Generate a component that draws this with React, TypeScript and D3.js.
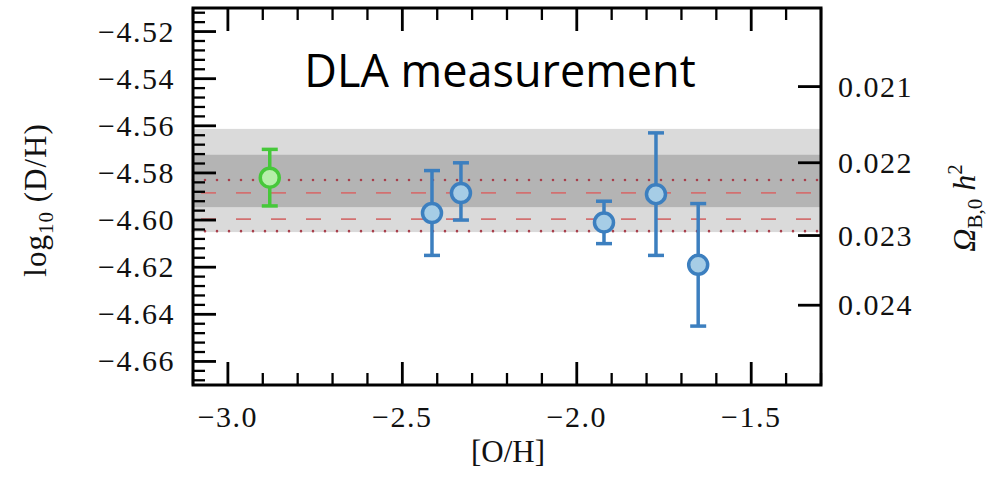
import React from "react";
import * as d3 from "d3";

// measurements: [O/H] and log10(D/H) with asymmetric error bars
const ohValues = [-2.88, -2.415, -2.332, -1.922, -1.773, -1.652];
const dhValues = [-4.582, -4.597, -4.5885, -4.601, -4.589, -4.619];
const dhLow = [-4.594, -4.615, -4.6, -4.61, -4.615, -4.645];
const dhHigh = [-4.57, -4.579, -4.5757, -4.592, -4.563, -4.593];
const pointKind = ["new", "lit", "lit", "lit", "lit", "lit"];

// shaded bands and reference lines
const bandOuter = [-4.5613, -4.6051];
const bandInner = [-4.5723, -4.5945];
const dottedLines = [-4.583, -4.6047];
const dashedLines = [-4.5885, -4.5996];

const xTicks = [-3.0, -2.5, -2.0, -1.5];
const yTicks = [-4.52, -4.54, -4.56, -4.58, -4.6, -4.62, -4.64, -4.66];
const omegaTicks = [0.021, 0.022, 0.023, 0.024];

const W = 987;
const H = 489;
const left = 193;
const right = 821;
const top = 8;
const bottom = 385;

// log10(D/H) = A - 1.6 log10(Omega_b h^2)
const omegaA = -7.2278;
const omegaToDH = (w: number) => omegaA - 1.6 * Math.log10(w);

const fmt = (v: number, n: number) => {
  const s = Math.abs(v).toFixed(n);
  return v < 0 ? "\u2212" + s : s;
};

const colors = {
  new: { stroke: "#46c83a", fill: "#b6eeaa" },
  lit: { stroke: "#3c7fbf", fill: "#a6cde6" },
};

const serif = "'Liberation Serif', 'Times New Roman', serif";
const labelStyle = { fontFamily: serif, fontSize: 30, fill: "#111" };

export default function App() {
  const x = d3.scaleLinear().domain([-3.1, -1.3]).range([left, right]);
  const y = d3.scaleLinear().domain([-4.51, -4.67]).range([top, bottom]);

  const xMinor = d3.range(-3.1, -1.29, 0.1).filter((v) => Math.abs(v * 2 - Math.round(v * 2)) > 1e-6);
  const yMinor = d3.range(-4.668, -4.5099, 0.004).filter((v) => Math.abs(v * 50 - Math.round(v * 50)) > 1e-6);

  const majorLen = 23;
  const minorLen = 12;

  return (
    <svg
      width={W}
      height={H}
      style={{ position: "absolute", left: 0, top: 0, background: "#fff" }}
    >
      {/* bands */}
      <rect x={left} width={right - left} y={y(bandOuter[0])} height={y(bandOuter[1]) - y(bandOuter[0])} fill="#dadada" />
      <rect x={left} width={right - left} y={y(bandInner[0])} height={y(bandInner[1]) - y(bandInner[0])} fill="#b4b4b4" />

      {dashedLines.map((v, i) => (
        <line key={"da" + i} x1={left} x2={right} y1={y(v)} y2={y(v)} stroke="#d27070" strokeWidth={1.8} strokeDasharray="15 20" strokeDashoffset={-8} />
      ))}
      {dottedLines.map((v, i) => (
        <line key={"do" + i} x1={left} x2={right} y1={y(v)} y2={y(v)} stroke="#a8404c" strokeWidth={2.6} strokeDasharray="0 12" strokeLinecap="round" />
      ))}

      {/* error bars */}
      {ohValues.map((v, i) => {
        const c = colors[pointKind[i] as "new" | "lit"];
        const cx = x(v);
        return (
          <g key={"e" + i} stroke={c.stroke} strokeWidth={3.5}>
            <line x1={cx} x2={cx} y1={y(dhLow[i])} y2={y(dhHigh[i])} />
            <line x1={cx - 8} x2={cx + 8} y1={y(dhLow[i])} y2={y(dhLow[i])} />
            <line x1={cx - 8} x2={cx + 8} y1={y(dhHigh[i])} y2={y(dhHigh[i])} />
          </g>
        );
      })}
      {ohValues.map((v, i) => {
        const c = colors[pointKind[i] as "new" | "lit"];
        return <circle key={"p" + i} cx={x(v)} cy={y(dhValues[i])} r={9.5} fill={c.fill} stroke={c.stroke} strokeWidth={3.5} />;
      })}

      {/* ticks */}
      <g stroke="#000">
        {xTicks.map((v) => (
          <g key={"xt" + v} strokeWidth={2.8}>
            <line x1={x(v)} x2={x(v)} y1={bottom} y2={bottom - majorLen} />
            <line x1={x(v)} x2={x(v)} y1={top} y2={top + majorLen} />
          </g>
        ))}
        {xMinor.map((v) => (
          <g key={"xm" + v} strokeWidth={2.3}>
            <line x1={x(v)} x2={x(v)} y1={bottom} y2={bottom - minorLen} />
            <line x1={x(v)} x2={x(v)} y1={top} y2={top + minorLen} />
          </g>
        ))}
        {yTicks.map((v) => (
          <line key={"yt" + v} x1={left} x2={left + majorLen} y1={y(v)} y2={y(v)} strokeWidth={2.8} />
        ))}
        {yMinor.map((v) => (
          <line key={"ym" + v} x1={left} x2={left + minorLen} y1={y(v)} y2={y(v)} strokeWidth={2.3} />
        ))}
        {omegaTicks.map((w) => (
          <line key={"ot" + w} x1={right} x2={right - majorLen} y1={y(omegaToDH(w))} y2={y(omegaToDH(w))} strokeWidth={2.8} />
        ))}
      </g>

      <rect x={left} y={top} width={right - left} height={bottom - top} fill="none" stroke="#000" strokeWidth={3} />

      {/* tick labels */}
      {yTicks.map((v) => (
        <text key={"yl" + v} x={left - 18} y={y(v) + 10} textAnchor="end" letterSpacing={1.5} style={labelStyle}>
          {fmt(v, 2)}
        </text>
      ))}
      {xTicks.map((v) => (
        <text key={"xl" + v} x={x(v)} y={427} textAnchor="middle" letterSpacing={1.5} style={labelStyle}>
          {fmt(v, 1)}
        </text>
      ))}
      {omegaTicks.map((w) => (
        <text key={"ol" + w} x={right + 17} y={y(omegaToDH(w)) + 10} textAnchor="start" letterSpacing={1.5} style={labelStyle}>
          {w.toFixed(3)}
        </text>
      ))}

      {/* axis labels */}
      <text x={508} y={462} textAnchor="middle" style={{ ...labelStyle, fontSize: 31 }}>
        [O/H]
      </text>
      <text transform="translate(46,200) rotate(-90)" textAnchor="middle" letterSpacing={1} style={{ ...labelStyle, fontSize: 31 }}>
        log
        <tspan fontSize={21} dy={7}>10</tspan>
        <tspan dy={-7}> (D/H)</tspan>
      </text>
      <text transform="translate(975,208) rotate(-90)" textAnchor="middle" style={{ ...labelStyle, fontSize: 32 }}>
        <tspan fontStyle="italic">Ω</tspan>
        <tspan fontSize={21} dy={7}>B,0</tspan>
        <tspan dy={-7} fontStyle="italic"> h</tspan>
        <tspan fontSize={21} dy={-13}>2</tspan>
      </text>

      <text x={500} y={87} textAnchor="middle" fontFamily="'Open Sans', sans-serif" fontSize={45} fill="#000">
        DLA measurement
      </text>
    </svg>
  );
}
